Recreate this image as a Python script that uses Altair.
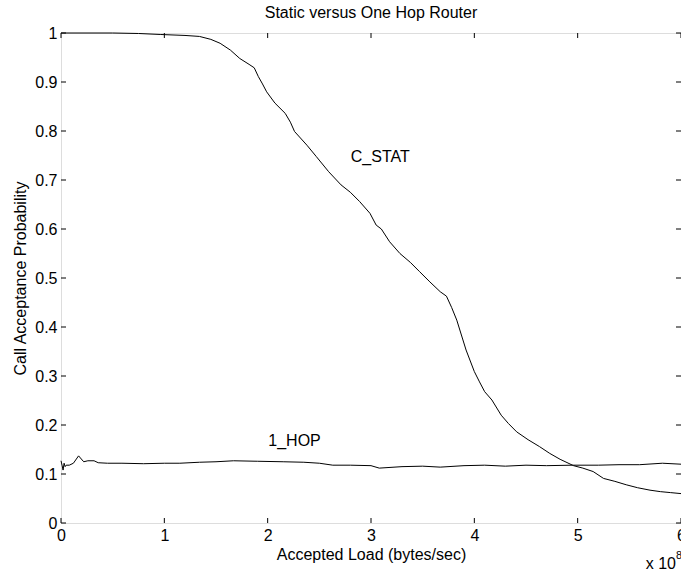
import altair as alt
import pandas as pd

FONT = "Liberation Sans"
FS = 16

# C_STAT curve (x in units of 1e8 bytes/sec)
cstat_x = [0, 0.5, 0.75, 0.96, 1.2, 1.34, 1.45, 1.54, 1.64, 1.73, 1.82, 1.87, 1.91, 1.95, 1.99,
           2.07, 2.17, 2.22, 2.26, 2.38, 2.47, 2.59, 2.71, 2.80, 2.89, 2.99, 3.05, 3.10, 3.18,
           3.28, 3.38, 3.47, 3.57, 3.67, 3.73, 3.78, 3.83, 3.92, 4.00, 4.05, 4.10, 4.17, 4.26,
           4.33, 4.41, 4.52, 4.63, 4.73, 4.83, 4.96, 5.05, 5.15, 5.25, 5.36, 5.47, 5.58, 5.70,
           5.80, 5.90, 6.0]
cstat_y = [1.0, 1.0, 0.999, 0.997, 0.995, 0.993, 0.987, 0.979, 0.965, 0.948, 0.936, 0.929, 0.911,
           0.896, 0.880, 0.857, 0.836, 0.818, 0.799, 0.771, 0.748, 0.717, 0.690, 0.675, 0.656,
           0.632, 0.608, 0.600, 0.574, 0.550, 0.532, 0.513, 0.492, 0.472, 0.463, 0.440, 0.414,
           0.353, 0.309, 0.288, 0.268, 0.251, 0.220, 0.203, 0.186, 0.170, 0.156, 0.142, 0.130,
           0.117, 0.112, 0.105, 0.091, 0.085, 0.078, 0.072, 0.067, 0.064, 0.062, 0.060]

# 1_HOP curve
hop_x = [0, 0.01, 0.02, 0.03, 0.04, 0.05, 0.08, 0.12, 0.17, 0.22, 0.26, 0.32, 0.36, 0.45, 0.59,
         0.8, 1.0, 1.15, 1.34, 1.5, 1.67, 1.9, 2.15, 2.35, 2.5, 2.63, 2.8, 3.0, 3.08, 3.3, 3.5,
         3.67, 3.9, 4.1, 4.3, 4.5, 4.7, 4.95, 5.2, 5.4, 5.6, 5.82, 6.0]
hop_y = [0.127, 0.118, 0.108, 0.122, 0.115, 0.118, 0.118, 0.122, 0.137, 0.125, 0.127, 0.127,
         0.123, 0.122, 0.122, 0.121, 0.122, 0.122, 0.124, 0.125, 0.127, 0.126, 0.125, 0.124,
         0.122, 0.118, 0.118, 0.117, 0.112, 0.115, 0.116, 0.114, 0.117, 0.118, 0.116, 0.118,
         0.117, 0.118, 0.118, 0.119, 0.119, 0.122, 0.120]

x_ticks = [0, 1, 2, 3, 4, 5, 6]
y_ticks = [0, 0.1, 0.2, 0.3, 0.4, 0.5, 0.6, 0.7, 0.8, 0.9, 1.0]

label_text = ["C_STAT", "1_HOP"]
label_x = [3.09, 2.26]
label_y = [0.747, 0.168]

W, H = 620, 490

lines = pd.concat([
    pd.DataFrame({"x": cstat_x, "y": cstat_y, "s": "C_STAT"}),
    pd.DataFrame({"x": hop_x, "y": hop_y, "s": "1_HOP"}),
])
xt = pd.DataFrame({"t": x_ticks})
yt = pd.DataFrame({"t": y_ticks})
labels = pd.DataFrame({"text": label_text, "x": label_x, "y": label_y})

xscale = alt.Scale(domain=[0, 6], nice=False, zero=False)
yscale = alt.Scale(domain=[0, 1], nice=False, zero=False)

xaxis = alt.Axis(values=x_ticks, tickSize=0, domain=False, grid=False, labelPadding=4,
                 labelFlush=False, labelOverlap=False,
                 labelFont=FONT, labelFontSize=FS, labelColor="black", format="d",
                 title="Accepted Load (bytes/sec)", titleFont=FONT, titleFontSize=FS,
                 titleFontWeight="normal", titleColor="black", titleX=W / 2, titleY=31,
                 titleAlign="center", titleBaseline="middle")
yaxis = alt.Axis(values=y_ticks, tickSize=0, domain=False, grid=False, labelPadding=4,
                 labelFlush=False, labelOverlap=False,
                 labelFont=FONT, labelFontSize=FS, labelColor="black", format=".1~f",
                 title="Call Acceptance Probability", titleFont=FONT, titleFontSize=FS,
                 titleFontWeight="normal", titleColor="black", titleX=-41, titleY=H / 2,
                 titleAngle=270, titleAlign="center", titleBaseline="middle")

line = alt.Chart(lines).mark_line(color="black", strokeWidth=1).encode(
    x=alt.X("x:Q", scale=xscale, axis=xaxis),
    y=alt.Y("y:Q", scale=yscale, axis=yaxis),
    detail="s:N",
    order="x:Q",
)

tick_bottom = alt.Chart(xt).mark_rule(color="black", strokeWidth=1).encode(
    x=alt.X("t:Q", scale=xscale), y=alt.value(H), y2=alt.value(H - 5))
tick_top = alt.Chart(xt).mark_rule(color="black", strokeWidth=1).encode(
    x=alt.X("t:Q", scale=xscale), y=alt.value(0), y2=alt.value(5))
tick_left = alt.Chart(yt).mark_rule(color="black", strokeWidth=1).encode(
    y=alt.Y("t:Q", scale=yscale), x=alt.value(0), x2=alt.value(5))
tick_right = alt.Chart(yt).mark_rule(color="black", strokeWidth=1).encode(
    y=alt.Y("t:Q", scale=yscale), x=alt.value(W - 5), x2=alt.value(W))

text = alt.Chart(labels).mark_text(font=FONT, fontSize=FS, color="black").encode(
    x=alt.X("x:Q", scale=xscale), y=alt.Y("y:Q", scale=yscale), text="text:N")

exp_base = alt.Chart(pd.DataFrame({"t": ["x 10"]})).mark_text(
    font=FONT, fontSize=FS, color="black", align="right", baseline="middle").encode(
    x=alt.value(615), y=alt.value(531), text="t:N")
exp_pow = alt.Chart(pd.DataFrame({"t": ["8"]})).mark_text(
    font=FONT, fontSize=11, color="black", align="left", baseline="middle").encode(
    x=alt.value(615), y=alt.value(523), text="t:N")

chart = alt.layer(line, tick_bottom, tick_top, tick_left, tick_right, text, exp_base, exp_pow).properties(
    width=W, height=H,
    title=alt.TitleParams("Static versus One Hop Router", font=FONT, fontSize=FS,
                          fontWeight="normal", color="black", anchor="middle", offset=4),
    autosize=alt.AutoSizeParams(type="none"),
    padding={"left": 61, "top": 33, "right": 0, "bottom": 51},
).configure_view(stroke="black", strokeWidth=1).configure(background="white")

chart.save("out.html", embed_options={"renderer": "svg", "actions": False})
